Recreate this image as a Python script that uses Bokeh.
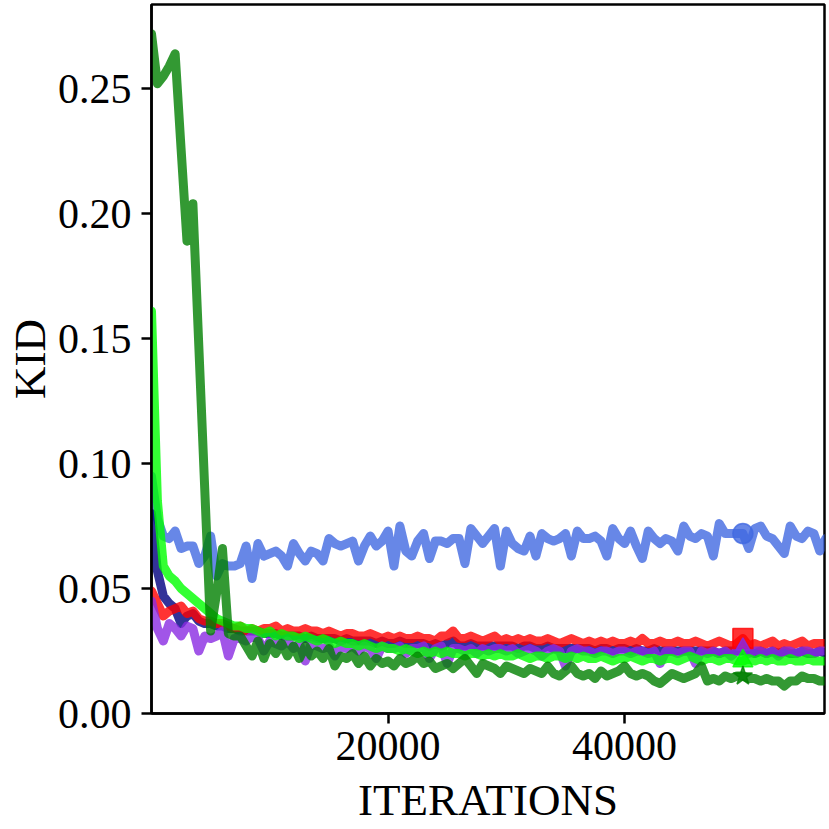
from bokeh.plotting import figure
from bokeh.models import FixedTicker, Range1d
from bokeh.embed import file_html
from bokeh.resources import INLINE

iterations = list(range(0, 57001, 500))  # 115 evaluation points

kid_royalblue = [
    0.095, 0.078, 0.071, 0.070, 0.073, 0.066, 0.067, 0.067, 0.060, 0.063,
    0.071, 0.055, 0.060, 0.059, 0.059, 0.060, 0.067, 0.054, 0.068, 0.063,
    0.064, 0.065, 0.063, 0.059, 0.068, 0.064, 0.061, 0.065, 0.064, 0.061,
    0.070, 0.068, 0.067, 0.068, 0.069, 0.061, 0.067, 0.071, 0.067, 0.069,
    0.073, 0.059, 0.075, 0.065, 0.063, 0.069, 0.072, 0.062, 0.069, 0.069,
    0.068, 0.070, 0.070, 0.060, 0.074, 0.071, 0.068, 0.071, 0.074, 0.059,
    0.073, 0.068, 0.066, 0.065, 0.071, 0.063, 0.072, 0.070, 0.069, 0.070,
    0.072, 0.063, 0.073, 0.070, 0.070, 0.071, 0.069, 0.063, 0.074, 0.070,
    0.068, 0.073, 0.067, 0.062, 0.073, 0.070, 0.068, 0.070, 0.069, 0.065,
    0.075, 0.071, 0.070, 0.072, 0.071, 0.063, 0.076, 0.072, 0.072, 0.072,
    0.072, 0.066, 0.074, 0.075, 0.071, 0.070, 0.067, 0.064, 0.075, 0.071,
    0.070, 0.073, 0.072, 0.065, 0.070,
]

kid_navy = [
    0.080, 0.057, 0.047, 0.044, 0.042, 0.036, 0.039, 0.040, 0.037, 0.036,
    0.036, 0.035, 0.035, 0.034, 0.034, 0.033, 0.033, 0.033, 0.033, 0.032,
    0.032, 0.032, 0.031, 0.031, 0.031, 0.031, 0.030, 0.031, 0.030, 0.030,
    0.030, 0.030, 0.029, 0.030, 0.029, 0.029, 0.029, 0.029, 0.028, 0.029,
    0.028, 0.028, 0.029, 0.028, 0.028, 0.028, 0.028, 0.027, 0.028, 0.027,
    0.028, 0.029, 0.027, 0.027, 0.028, 0.027, 0.027, 0.027, 0.027, 0.027,
    0.027, 0.027, 0.026, 0.027, 0.027, 0.026, 0.026, 0.027, 0.026, 0.026,
    0.026, 0.026, 0.026, 0.026, 0.026, 0.025, 0.026, 0.026, 0.025, 0.026,
    0.026, 0.025, 0.026, 0.025, 0.025, 0.026, 0.025, 0.025, 0.025, 0.025,
    0.025, 0.025, 0.025, 0.025, 0.025, 0.025, 0.024, 0.025, 0.025, 0.025,
    0.025, 0.025, 0.024, 0.025, 0.024, 0.025, 0.024, 0.025, 0.024, 0.024,
    0.025, 0.024, 0.024, 0.025, 0.024,
]

kid_red = [
    0.049, 0.044, 0.039, 0.041, 0.042, 0.043, 0.040, 0.041, 0.038, 0.037,
    0.037, 0.036, 0.036, 0.035, 0.034, 0.035, 0.033, 0.034, 0.033, 0.034,
    0.034, 0.035, 0.033, 0.034, 0.033, 0.033, 0.034, 0.033, 0.033, 0.032,
    0.033, 0.032, 0.031, 0.032, 0.032, 0.031, 0.031, 0.032, 0.031, 0.030,
    0.031, 0.030, 0.031, 0.030, 0.030, 0.031, 0.030, 0.030, 0.029, 0.031,
    0.031, 0.033, 0.030, 0.030, 0.031, 0.030, 0.029, 0.030, 0.031, 0.029,
    0.030, 0.029, 0.030, 0.029, 0.030, 0.029, 0.029, 0.030, 0.029, 0.028,
    0.029, 0.030, 0.029, 0.028, 0.029, 0.028, 0.029, 0.028, 0.029, 0.028,
    0.028, 0.029, 0.028, 0.030, 0.028, 0.028, 0.029, 0.028, 0.028, 0.029,
    0.028, 0.028, 0.029, 0.028, 0.027, 0.028, 0.029, 0.028, 0.027, 0.028,
    0.030, 0.027, 0.028, 0.027, 0.028, 0.029, 0.027, 0.028, 0.027, 0.028,
    0.029, 0.027, 0.028, 0.028, 0.028,
]

kid_blueviolet = [
    0.045, 0.034, 0.029, 0.036, 0.034, 0.031, 0.035, 0.034, 0.025, 0.031,
    0.030, 0.031, 0.033, 0.023, 0.030, 0.030, 0.029, 0.031, 0.030, 0.025,
    0.029, 0.028, 0.027, 0.029, 0.026, 0.028, 0.021, 0.028, 0.027, 0.026,
    0.027, 0.023, 0.027, 0.026, 0.027, 0.025, 0.027, 0.026, 0.022, 0.027,
    0.026, 0.026, 0.027, 0.024, 0.026, 0.026, 0.027, 0.022, 0.026, 0.027,
    0.020, 0.026, 0.026, 0.025, 0.026, 0.024, 0.026, 0.025, 0.026, 0.026,
    0.025, 0.026, 0.024, 0.025, 0.026, 0.025, 0.023, 0.025, 0.026, 0.025,
    0.019, 0.025, 0.026, 0.025, 0.025, 0.024, 0.025, 0.025, 0.024, 0.025,
    0.025, 0.024, 0.025, 0.025, 0.024, 0.025, 0.020, 0.025, 0.025, 0.024,
    0.025, 0.025, 0.020, 0.025, 0.024, 0.025, 0.024, 0.025, 0.023, 0.025,
    0.027, 0.024, 0.025, 0.025, 0.024, 0.025, 0.023, 0.025, 0.025, 0.024,
    0.025, 0.025, 0.024, 0.025, 0.025,
]

kid_lime = [
    0.161, 0.085, 0.059, 0.055, 0.053, 0.050, 0.048, 0.046, 0.044, 0.042,
    0.040, 0.038, 0.037, 0.036, 0.035, 0.035, 0.034, 0.034, 0.033, 0.032,
    0.033, 0.031, 0.032, 0.031, 0.031, 0.030, 0.031, 0.030, 0.029, 0.030,
    0.029, 0.028, 0.029, 0.028, 0.028, 0.027, 0.028, 0.027, 0.026, 0.027,
    0.026, 0.026, 0.025, 0.026, 0.025, 0.024, 0.025, 0.024, 0.025, 0.024,
    0.025, 0.024, 0.024, 0.023, 0.024, 0.024, 0.023, 0.024, 0.023, 0.024,
    0.023, 0.023, 0.024, 0.023, 0.022, 0.023, 0.023, 0.022, 0.023, 0.023,
    0.022, 0.023, 0.022, 0.023, 0.022, 0.022, 0.023, 0.022, 0.021, 0.022,
    0.022, 0.023, 0.022, 0.021, 0.022, 0.022, 0.021, 0.022, 0.022, 0.021,
    0.022, 0.023, 0.022, 0.021, 0.022, 0.022, 0.021, 0.022, 0.022, 0.021,
    0.021, 0.022, 0.021, 0.022, 0.021, 0.022, 0.021, 0.021, 0.022, 0.021,
    0.021, 0.022, 0.021, 0.021, 0.021,
]

kid_green = [
    0.272, 0.252, 0.255, 0.259, 0.264, 0.226, 0.189, 0.204, 0.147, 0.090,
    0.033, 0.048, 0.066, 0.032, 0.031, 0.031, 0.027, 0.023, 0.029, 0.022,
    0.028, 0.024, 0.028, 0.023, 0.027, 0.022, 0.027, 0.023, 0.025, 0.022,
    0.026, 0.019, 0.023, 0.022, 0.024, 0.020, 0.023, 0.019, 0.022, 0.020,
    0.021, 0.019, 0.022, 0.020, 0.021, 0.023, 0.020, 0.021, 0.018, 0.019,
    0.020, 0.018, 0.020, 0.022, 0.019, 0.016, 0.020, 0.019, 0.018, 0.016,
    0.019, 0.018, 0.017, 0.016, 0.018, 0.017, 0.016, 0.019, 0.016, 0.015,
    0.017, 0.019, 0.016, 0.015, 0.016, 0.014, 0.017, 0.015, 0.016, 0.017,
    0.019, 0.016, 0.015, 0.016, 0.015, 0.013, 0.012, 0.014, 0.016, 0.015,
    0.014, 0.015, 0.016, 0.019, 0.013, 0.014, 0.013, 0.015, 0.014, 0.015,
    0.015, 0.014, 0.014, 0.013, 0.014, 0.013, 0.013, 0.011, 0.013, 0.013,
    0.015, 0.014, 0.014, 0.013, 0.013,
]

marker_iteration = 50000
x_ticks = [20000, 40000]
x_tick_labels = ["20000", "40000"]
y_ticks = [0.0, 0.05, 0.10, 0.15, 0.20, 0.25]
y_tick_labels = ["0.00", "0.05", "0.10", "0.15", "0.20", "0.25"]

FONT = "Liberation Serif"

p = figure(width=829, height=829, output_backend="svg", toolbar_location=None,
           x_range=Range1d(0, 56900), y_range=Range1d(0, 0.2837),
           min_border_left=151, min_border_right=5, min_border_top=4,
           min_border_bottom=116)
p.background_fill_color = "white"
p.border_fill_color = "white"
p.grid.visible = False
p.outline_line_color = "black"
p.outline_line_width = 2.5

series = [
    (kid_royalblue, "royalblue", 0.8, "circle"),
    (kid_navy, "navy", 0.8, None),
    (kid_red, "red", 0.8, "square"),
    (kid_blueviolet, "blueviolet", 0.8, "triangle"),
    (kid_lime, "lime", 0.8, "triangle"),
    (kid_green, "green", 0.8, "star"),
]

mi = iterations.index(marker_iteration)
for vals, col, a, mk in series:
    p.line(iterations, vals, line_color=col, line_alpha=a, line_width=9,
           line_join="round", line_cap="round")
for vals, col, a, mk in series:
    if mk is None:
        continue
    sz = 14 if col == "blueviolet" else 20
    p.scatter([iterations[mi]], [vals[mi]], marker=mk, size=sz,
              fill_color=col, fill_alpha=a, line_color=col, line_alpha=a, line_width=1.5)

for ax in (p.xaxis[0], p.yaxis[0]):
    ax.axis_line_color = "black"
    ax.axis_line_width = 2.5
    ax.major_tick_line_color = "black"
    ax.major_tick_line_width = 2.5
    ax.major_tick_in = 0
    ax.major_tick_out = 10
    ax.minor_tick_line_color = None
    ax.major_label_text_font = FONT
    ax.major_label_text_font_size = "42px"
    ax.major_label_text_color = "black"
    ax.axis_label_text_font = FONT
    ax.axis_label_text_font_size = "45px"
    ax.axis_label_text_font_style = "normal"
    ax.axis_label_text_color = "black"

p.xaxis.ticker = FixedTicker(ticks=x_ticks)
p.xaxis.major_label_overrides = dict(zip(x_ticks, x_tick_labels))
p.xaxis.axis_label = "ITERATIONS"
p.xaxis.major_label_standoff = 8
p.xaxis.axis_label_standoff = 12

p.yaxis.ticker = FixedTicker(ticks=y_ticks)
p.yaxis.major_label_overrides = dict(zip(y_ticks, y_tick_labels))
p.yaxis.axis_label = "KID"
p.yaxis.major_label_standoff = 10
p.yaxis.axis_label_standoff = 0

open("out.html", "w").write(file_html(p, INLINE))
